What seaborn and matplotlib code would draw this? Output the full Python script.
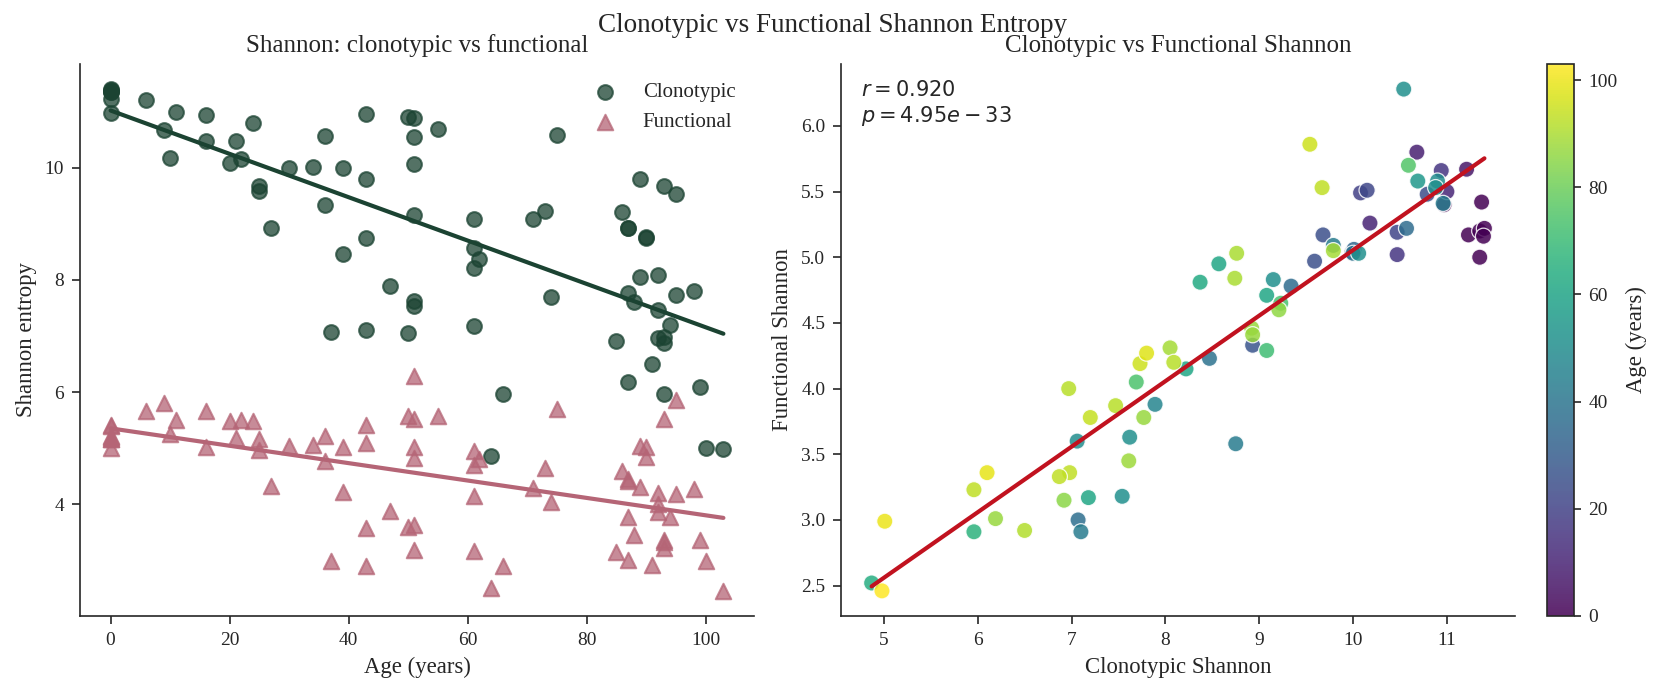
import numpy as np
import pandas as pd
import seaborn as sns
import matplotlib.pyplot as plt
from matplotlib.colors import Normalize
from matplotlib.cm import ScalarMappable


# per-sample values
age = [0, 0, 0, 0, 0, 0, 0, 6, 9, 10, 11, 16, 16, 20, 21, 22, 24, 25, 25, 27,
       30, 34, 36, 36, 37, 39, 39, 43, 43, 43, 43, 47, 50, 50,
       51, 51, 51, 51, 51, 51, 55, 61, 61, 61, 61, 62, 64, 66, 71, 73, 74, 75,
       85, 86, 87, 87, 87, 87, 88, 89, 89, 90, 90, 91, 92, 92, 92,
       93, 93, 93, 93, 94, 95, 95, 98, 99, 100, 103]
clonotypic = [10.97, 11.37, 11.23, 11.35, 11.40, 11.39, 11.35, 11.21, 10.68, 10.18,
              11.00, 10.94, 10.47, 10.08, 10.47, 10.15, 10.79, 9.68, 9.59, 8.93,
              9.99, 10.01, 10.57, 9.34, 7.07, 10.00, 8.47, 10.96, 9.79, 8.75, 7.10,
              7.89, 10.90, 7.06,
              10.88, 10.54, 10.06, 9.15, 7.62, 7.54, 10.69, 9.08, 8.57, 8.22, 7.18,
              8.37, 4.87, 5.96, 9.08, 9.23, 7.69, 10.59,
              6.92, 9.21, 8.92, 8.93, 7.77, 6.19, 7.61, 9.79, 8.05, 8.76, 8.74, 6.50,
              8.09, 7.47, 6.97,
              9.67, 6.98, 6.87, 5.96, 7.20, 9.54, 7.73, 7.80, 6.10, 5.01, 4.98]
functional = [5.40, 5.42, 5.17, 5.20, 5.22, 5.16, 5.00, 5.67, 5.80, 5.26,
              5.50, 5.66, 5.02, 5.49, 5.19, 5.51, 5.48, 5.17, 4.97, 4.33,
              5.04, 5.06, 5.22, 4.78, 3.00, 5.03, 4.23, 5.41, 5.09, 3.58, 2.91,
              3.88, 5.58, 3.60,
              5.53, 6.28, 5.03, 4.83, 3.63, 3.18, 5.58, 4.71, 4.95, 4.15, 3.17,
              4.81, 2.52, 2.91, 4.29, 4.65, 4.05, 5.70,
              3.15, 4.60, 4.46, 4.41, 3.78, 3.01, 3.45, 5.05, 4.31, 5.03, 4.84, 2.92,
              4.20, 3.87, 4.00,
              5.53, 3.36, 3.33, 3.23, 3.78, 5.86, 4.19, 4.27, 3.36, 2.99, 2.46]

r_text = "$r = 0.920$\n$p = 4.95e-33$"

df = pd.DataFrame({"age": age, "clonotypic": clonotypic, "functional": functional})

sns.set_style("white")
plt.rcParams["font.family"] = ["Liberation Serif", "DejaVu Serif"]

clono_col = "#1b4332"
func_col = "#b56576"
tick_fs = 9.3
lab_fs = 10.9
title_fs = 12

fig = plt.figure(figsize=(1666 / 150, 696 / 150), dpi=150)
ax1 = fig.add_axes([0.048, 0.115, 0.4046, 0.793])
ax2 = fig.add_axes([0.5048, 0.115, 0.4046, 0.793])
cax = fig.add_axes([0.9286, 0.115, 0.0162, 0.793])

# left: entropy vs age
sns.scatterplot(data=df, x="age", y="clonotypic", ax=ax1, color=clono_col, marker="o",
                s=50, alpha=0.75, edgecolor=clono_col, linewidth=1, label="Clonotypic")
sns.scatterplot(data=df, x="age", y="functional", ax=ax1, color=func_col, marker="^",
                s=55, alpha=0.75, edgecolor=func_col, linewidth=1, label="Functional")
sns.regplot(data=df, x="age", y="clonotypic", ax=ax1, scatter=False, ci=None,
            color=clono_col, line_kws={"lw": 2})
sns.regplot(data=df, x="age", y="functional", ax=ax1, scatter=False, ci=None,
            color=func_col, line_kws={"lw": 2})
ax1.set_xlabel("Age (years)", fontsize=lab_fs)
ax1.set_ylabel("Shannon entropy", fontsize=lab_fs)
ax1.set_title("Shannon: clonotypic vs functional", fontsize=title_fs)
ax1.legend(loc="upper right", frameon=False, fontsize=10)
ax1.tick_params(labelsize=tick_fs, length=4, left=True, bottom=True)

# right: clonotypic vs functional, colored by age
sns.scatterplot(data=df, x="clonotypic", y="functional", hue="age", palette="viridis",
                hue_norm=(0, 103), ax=ax2, s=60, alpha=0.85, edgecolor="white",
                linewidth=0.6, legend=False)
sns.regplot(data=df, x="clonotypic", y="functional", ax=ax2, scatter=False, ci=None,
            color="#c1121f", line_kws={"lw": 2})
ax2.text(0.03, 0.97, r_text, transform=ax2.transAxes, va="top", ha="left",
         fontsize=10, linespacing=1.2)
ax2.set_xlabel("Clonotypic Shannon", fontsize=lab_fs)
ax2.set_ylabel("Functional Shannon", fontsize=lab_fs)
ax2.set_title("Clonotypic vs Functional Shannon", fontsize=title_fs)
ax2.tick_params(labelsize=tick_fs, length=4, left=True, bottom=True)

sm = ScalarMappable(norm=Normalize(0, 103), cmap="viridis")
cb = fig.colorbar(sm, cax=cax, alpha=0.85)
cb.set_label("Age (years)", fontsize=lab_fs)
cb.ax.tick_params(labelsize=tick_fs)

sns.despine(ax=ax1)
sns.despine(ax=ax2)

fig.suptitle("Clonotypic vs Functional Shannon Entropy", fontsize=13, y=0.981)
plt.savefig("out.png", dpi=150)
